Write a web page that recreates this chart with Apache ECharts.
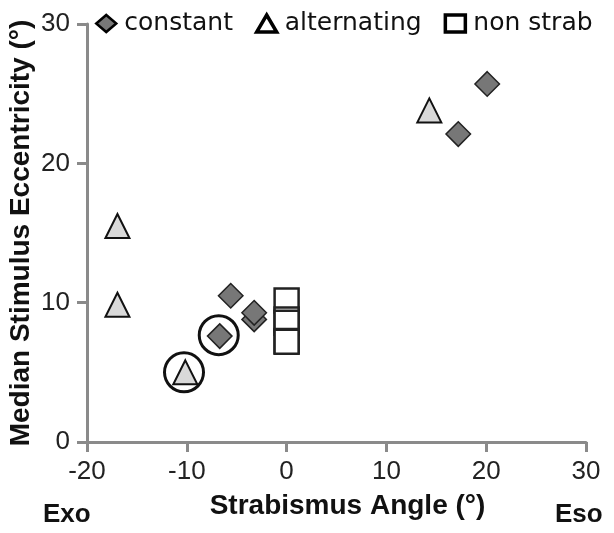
<!DOCTYPE html>
<html>
<head>
<meta charset="utf-8">
<script src="https://cdn.jsdelivr.net/npm/echarts@6/dist/echarts.min.js"></script>
<style>
  html, body { margin: 0; padding: 0; background: #fff; }
  #chart { width: 614px; height: 533px; }
</style>
</head>
<body>
<div id="chart"></div>
<script>
// values: [strabismus angle, median eccentricity]
var constant = [[20.1, 25.7], [17.2, 22.1], [-5.6, 10.5], [-3.25, 8.8], [-3.25, 9.27], [-6.7, 7.6]];
var alternating = [[14.3, 23.8], [-16.95, 15.5], [-16.95, 9.85], [-10.15, 5.0]];
var nonStrab = [[0, 10.15], [0, 8.8], [0, 8.55], [0, 7.25], [0, 7.2]];
var circled = [[-10.28, 5.0], [-6.8, 7.67]];
var xTicks = [-20, -10, 0, 10, 20, 30];
var yTicks = [0, 10, 20, 30];

var font = 'Liberation Sans, Arial, sans-serif';
var axisColor = '#8a8a8a';

var myChart = echarts.init(document.getElementById('chart'));
myChart.setOption({
    animation: false,
    textStyle: { fontFamily: font },
    grid: { left: 87, right: 28, top: 24, bottom: 91, containLabel: false, outerBoundsMode: 'none' },
    legend: {
        left: 95,
        top: 11,
        padding: 0,
        itemWidth: 20,
        itemHeight: 17,
        itemGap: 22,
        textStyle: { fontSize: 25, color: '#111', fontFamily: 'DejaVu Sans', padding: [0, 0, 0, 3] },
        data: [
            { name: 'constant', icon: 'diamond', itemStyle: { color: '#777', borderColor: '#000', borderWidth: 2.5 } },
            { name: 'alternating', icon: 'triangle', itemStyle: { color: '#fff', borderColor: '#000', borderWidth: 3.5 } },
            { name: 'non strab', icon: 'rect', itemStyle: { color: '#fff', borderColor: '#000', borderWidth: 3.5 } }
        ]
    },
    xAxis: {
        type: 'value',
        min: xTicks[0],
        max: xTicks[xTicks.length - 1],
        interval: 10,
        splitLine: { show: false },
        axisLine: { onZero: false, lineStyle: { color: axisColor, width: 3 } },
        axisTick: { length: 10, lineStyle: { color: axisColor, width: 3 } },
        axisLabel: { fontSize: 26, color: '#222', margin: 17 },
        name: 'Strabismus Angle (°)',
        nameLocation: 'middle',
        nameGap: 50,
        nameMoveOverlap: false,
        nameTextStyle: { fontSize: 28, fontWeight: 'bold', color: '#111', padding: [0, 0, 0, 22] }
    },
    yAxis: {
        type: 'value',
        min: yTicks[0],
        max: yTicks[yTicks.length - 1],
        interval: 10,
        splitLine: { show: false },
        axisLine: { show: true, onZero: false, lineStyle: { color: axisColor, width: 3 } },
        axisTick: { show: true, length: 10, lineStyle: { color: axisColor, width: 3 } },
        axisLabel: { fontSize: 26, color: '#222', margin: 17 },
        name: 'Median Stimulus Eccentricity (°)',
        nameLocation: 'middle',
        nameGap: 52,
        nameMoveOverlap: false,
        nameTextStyle: { fontSize: 28, fontWeight: 'bold', color: '#111' }
    },
    graphic: [
        { type: 'text', left: 43, top: 502, style: { text: 'Exo', font: 'bold 26px ' + font, fill: '#111' } },
        { type: 'text', left: 555, top: 502, style: { text: 'Eso', font: 'bold 26px ' + font, fill: '#111' } }
    ],
    series: [
        {
            name: 'non strab',
            type: 'scatter',
            symbol: 'rect',
            symbolSize: 24,
            itemStyle: { color: '#fff', borderColor: '#222', borderWidth: 2.5, opacity: 1 },
            data: nonStrab,
            z: 2
        },
        {
            name: 'constant',
            type: 'scatter',
            symbol: 'diamond',
            symbolSize: 24.5,
            itemStyle: { color: '#777', borderColor: '#222', borderWidth: 1.5, opacity: 1 },
            data: constant,
            z: 3
        },
        {
            name: 'alternating',
            type: 'scatter',
            symbol: 'triangle',
            symbolSize: [24, 24],
            itemStyle: { color: '#d9d9d9', borderColor: '#111', borderWidth: 2, opacity: 1 },
            data: alternating,
            z: 3
        },
        {
            name: 'circled',
            type: 'scatter',
            symbol: 'circle',
            symbolSize: 39,
            itemStyle: { color: 'rgba(0,0,0,0)', borderColor: '#111', borderWidth: 3, opacity: 1 },
            data: circled,
            z: 4,
            silent: true
        }
    ]
});
</script>
</body>
</html>
